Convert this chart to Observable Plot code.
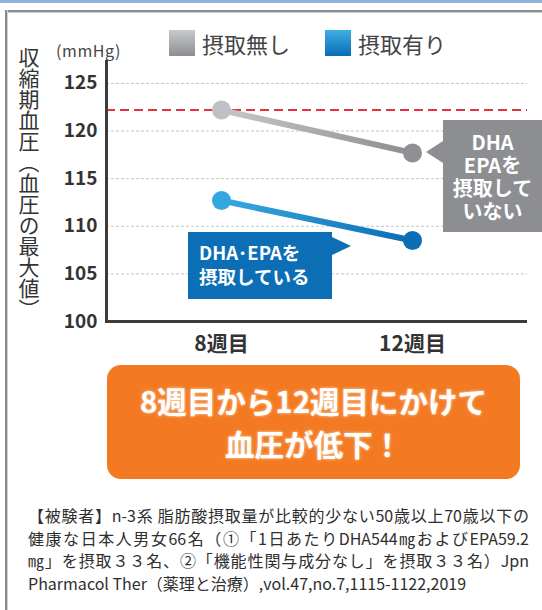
<!DOCTYPE html>
<html lang="ja">
<head>
<meta charset="utf-8">
<script src="https://cdn.jsdelivr.net/npm/d3@7"></script>
<script src="https://cdn.jsdelivr.net/npm/@observablehq/plot@0.6"></script>
<style>
  html, body { margin: 0; padding: 0; background: #fff; }
  body { font-family: "Noto Sans CJK JP", "Noto Sans", sans-serif; color: #333; }
  #wrap { position: relative; width: 542px; height: 610px; overflow: hidden; background: #fff; }
  #topstrip { position: absolute; left: 0; top: 0; width: 542px; height: 3px; background: #93b4da; }
  #topborder { position: absolute; left: 5px; top: 10px; width: 537px; height: 2px; background: #8a8a8a; box-shadow: 0 1px 0 #d0d0d0; }
  #leftborder { position: absolute; left: 5px; top: 10px; width: 2px; height: 600px; background: #8a8a8a; box-shadow: 1px 0 0 #d0d0d0; }
  #chart { position: absolute; left: 0; top: 0; }
  .legend { position: absolute; top: 30px; display: flex; align-items: center; font-size: 22px; color: #444; line-height: 26px; }
  .legend .sw { width: 26px; height: 26px; margin-right: 7px; }
  #unit { position: absolute; left: 56px; top: 40px; font-size: 16px; letter-spacing: 0.6px; color: #444; line-height: 20px; }
  #ytitle { position: absolute; left: 18px; top: 47px; writing-mode: vertical-rl; font-size: 21px; line-height: 22px; color: #333; }
  .callout { position: absolute; color: #fff; font-weight: bold; }
  #cGray { left: 443px; top: 120px; width: 99px; height: 112px; background: #8d8e92; display: flex; flex-direction: column; justify-content: center; align-items: center; font-size: 20px; line-height: 23px; text-align: center; }
  #cGray div { height: 23px; }
  #cGrayTip { position: absolute; left: 426px; top: 141px; width: 0; height: 0; border-top: 11px solid transparent; border-bottom: 11px solid transparent; border-right: 17px solid #8d8e92; }
  #cBlue { left: 188px; top: 232px; width: 144px; height: 67px; background: #0c6fb6; box-sizing: border-box; padding: 8px 0 0 11px; font-size: 18.5px; line-height: 24px; }
  #cBlueTip { position: absolute; left: 332px; top: 237px; width: 0; height: 0; border-top: 9px solid transparent; border-bottom: 9px solid transparent; border-left: 19px solid #0c6fb6; }
  #banner { position: absolute; left: 107px; top: 365px; width: 413px; height: 114px; background: #f37a22; border-radius: 14px; color: #fff; font-weight: bold; font-size: 29.5px; line-height: 43px; text-align: center; display: flex; flex-direction: column; justify-content: center; text-shadow: 0 0 3px rgba(255,235,215,0.9); }
  #caption { position: absolute; left: 28px; top: 504px; width: 501px; font-size: 16px; line-height: 22.5px; color: #2e2e2e; }
  #caption .j { text-align: justify; text-align-last: justify; white-space: nowrap; }
  #caption .l { white-space: nowrap; }
</style>
</head>
<body>
<div id="wrap">
  <div id="topstrip"></div>
  <div id="topborder"></div>
  <div id="leftborder"></div>
  <div id="chart"></div>
  <div id="unit"></div>
  <div id="ytitle"></div>
  <div id="legend"></div>
  <div id="cGrayTip"></div>
  <div id="cGray" class="callout"></div>
  <div id="cBlueTip"></div>
  <div id="cBlue" class="callout"></div>
  <div id="banner"></div>
  <div id="caption"></div>
</div>
<script>
// ---- data ----
const weeks = ["8週目", "12週目"];
const seriesNames = ["摂取無し", "摂取有り"];
const withoutIntake = [122.2, 117.7];   // 摂取無し
const withIntake = [112.7, 108.5];      // 摂取有り
const referenceLevel = 122.2;           // red dashed line
const yTicks = [100, 105, 110, 115, 120, 125];
const yMax = 127.3;
const unitLabel = "(mmHg)";
const yTitle = "収縮期血圧（血圧の最大値）";
const grayCallout = ["DHA", "EPAを", "摂取して", "いない"];
const blueCallout = ["DHA･EPAを", "摂取している"];
const bannerLines = ["8週目から12週目にかけて", "血圧が低下！"];
const captionLines = [
  "【被験者】n-3系 脂肪酸摂取量が比較的少ない50歳以上70歳以下の",
  "健康な日本人男女66名（①「1日あたりDHA544㎎およびEPA59.2",
  "㎎」を摂取３３名、②「機能性関与成分なし」を摂取３３名）Jpn",
  "Pharmacol Ther（薬理と治療）,vol.47,no.7,1115-1122,2019"
];

// ---- styles ----
const seriesStyle = {
  "摂取無し": {grad: "gradGray", from: "#c6c7ca", to: "#8d8e92", dots: ["#bfc0c4", "#8f9094"]},
  "摂取有り": {grad: "gradBlue", from: "#38a9e1", to: "#0a6cb5", dots: ["#36a6df", "#0b6db6"]}
};

const rows = [];
weeks.forEach((w, i) => {
  rows.push({series: seriesNames[0], week: w, idx: i, value: withoutIntake[i]});
  rows.push({series: seriesNames[1], week: w, idx: i, value: withIntake[i]});
});

const font = '"Noto Sans CJK JP", "Noto Sans", sans-serif';

const chart = Plot.plot({
  width: 542,
  height: 360,
  marginTop: 61,
  marginBottom: 39,
  marginLeft: 106,
  marginRight: 15,
  style: {fontFamily: font, color: "#333", background: "transparent", overflow: "visible"},
  x: {type: "point", domain: weeks, padding: 0.6, axis: null},
  y: {domain: [100, yMax], axis: null},
  marks: [
    Plot.gridY(yTicks.filter(t => t > 100), {stroke: "#c4c4c4", strokeOpacity: 1, strokeWidth: 1, strokeDasharray: "3,2"}),
    Plot.ruleY([referenceLevel], {stroke: "#e5333b", strokeWidth: 2, strokeDasharray: "9,5"}),
    Plot.axisY({ticks: yTicks, tickSize: 0, tickPadding: 9, fontSize: 19, fontWeight: 600, label: null}),
    Plot.axisX({tickSize: 0, tickPadding: 14.5, fontSize: 21, fontWeight: "bold", label: null}),
    Plot.frame({anchor: "left", stroke: "#3b3b3b", strokeWidth: 3}),
    Plot.ruleY([100], {stroke: "#3b3b3b", strokeWidth: 3}),
    ...seriesNames.map(s => Plot.line(rows.filter(d => d.series === s), {
      x: "week", y: "value", stroke: `url(#${seriesStyle[s].grad})`, strokeWidth: 6
    })),
    Plot.dot(rows, {x: "week", y: "value", r: 9.5, fill: d => seriesStyle[d.series].dots[d.idx], stroke: null})
  ]
});

// gradients
const defs = d3.select(chart).insert("defs", ":first-child");
seriesNames.forEach(s => {
  const st = seriesStyle[s];
  const g = defs.append("linearGradient").attr("id", st.grad).attr("x1", "0").attr("x2", "1").attr("y1", "0").attr("y2", "0");
  g.append("stop").attr("offset", "0%").attr("stop-color", st.from);
  g.append("stop").attr("offset", "100%").attr("stop-color", st.to);
});
document.getElementById("chart").appendChild(chart);

// legend
const legendPos = [169, 325];
const legendSw = {
  "摂取無し": "linear-gradient(#c8c9cc, #8d8e92)",
  "摂取有り": "linear-gradient(#3eaee4, #0a6cb5)"
};
const legendEl = document.getElementById("legend");
seriesNames.forEach((s, i) => {
  const item = document.createElement("div");
  item.className = "legend";
  item.style.left = legendPos[i] + "px";
  const sw = document.createElement("div");
  sw.className = "sw";
  sw.style.background = legendSw[s];
  const t = document.createElement("span");
  t.textContent = s;
  item.appendChild(sw);
  item.appendChild(t);
  legendEl.appendChild(item);
});

document.getElementById("unit").textContent = unitLabel;
document.getElementById("ytitle").textContent = yTitle;

const cg = document.getElementById("cGray");
grayCallout.forEach(t => { const d = document.createElement("div"); d.textContent = t; cg.appendChild(d); });
const cb = document.getElementById("cBlue");
blueCallout.forEach(t => { const d = document.createElement("div"); d.textContent = t; cb.appendChild(d); });
const bn = document.getElementById("banner");
bannerLines.forEach(t => { const d = document.createElement("div"); d.textContent = t; bn.appendChild(d); });
const cap = document.getElementById("caption");
captionLines.forEach((t, i) => {
  const d = document.createElement("div");
  d.className = i < 3 ? "j" : "l";
  d.textContent = t;
  cap.appendChild(d);
});
</script>
</body>
</html>
